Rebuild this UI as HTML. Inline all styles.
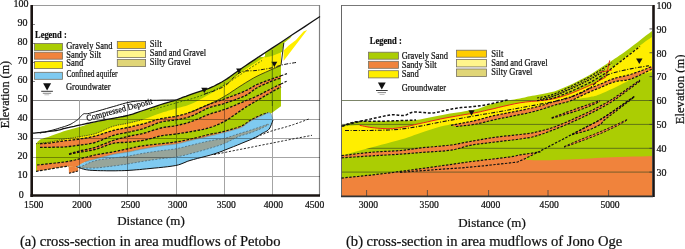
<!DOCTYPE html>
<html><head><meta charset="utf-8">
<style>
html,body{margin:0;padding:0;background:#fff;width:685px;height:249px;overflow:hidden}
svg{display:block;will-change:transform}
text{font-family:"Liberation Serif",serif;fill:#111;stroke:#111;stroke-width:0.22px}
</style></head><body>
<svg width="685" height="249" viewBox="0 0 685 249">
<defs>
<clipPath id="cl"><rect x="33" y="5" width="287" height="189"/></clipPath>
<clipPath id="cr"><rect x="341" y="5" width="311" height="191"/></clipPath>
</defs>

<!-- ================= LEFT CHART ================= -->
<g id="left">
<!-- frame -->
<line x1="33" y1="5.5" x2="320" y2="5.5" stroke="#9a9a9a" stroke-width="1"/>
<line x1="319.5" y1="5" x2="319.5" y2="195" stroke="#808080" stroke-width="1.2"/>
<g id="lgeo">
<polygon points="36.0,143.7 37.8,141.5 40.2,139.4 41.2,139.1 42.6,138.7 44.3,138.1 46.1,137.6 48.1,136.9 50.0,136.3 51.9,135.6 54.0,134.8 56.1,134.0 58.3,133.2 60.6,132.4 63.0,131.6 65.5,130.8 68.2,130.1 71.0,129.3 73.8,128.5 76.6,127.8 79.3,127.0 81.9,126.2 84.5,125.4 87.0,124.6 89.6,123.7 92.3,123.0 95.0,122.2 97.9,121.5 101.0,120.8 104.1,120.1 107.2,119.5 110.2,118.9 113.0,118.3 115.7,117.8 118.2,117.3 120.7,116.9 123.0,116.5 125.3,116.0 127.6,115.5 129.7,114.9 131.6,114.4 133.4,113.8 135.3,113.1 137.5,112.4 140.0,111.5 143.1,110.5 146.6,109.3 150.3,108.0 154.1,106.8 157.7,105.6 161.0,104.5 163.8,103.6 166.4,102.9 168.9,102.2 171.2,101.5 173.6,100.8 176.0,100.0 178.5,99.1 180.9,98.2 183.3,97.2 185.8,96.3 188.3,95.3 191.0,94.3 193.9,93.3 196.9,92.4 200.0,91.4 203.1,90.4 206.1,89.4 209.0,88.3 211.7,87.1 214.3,86.0 216.8,84.7 219.3,83.4 221.8,82.0 224.3,80.5 226.9,78.9 229.5,77.1 232.0,75.2 234.7,73.3 237.3,71.4 240.0,69.5 242.9,67.5 245.9,65.3 249.0,63.2 252.0,61.1 254.7,59.4 257.0,58.0 258.8,57.2 260.0,57.0 261.1,57.1 262.1,57.1 263.3,57.0 265.0,56.3 267.4,55.0 270.3,53.1 273.5,51.0 276.6,49.0 279.2,47.2 281.0,46.0 281.0,106.3 271.0,113.5 272.8,119.4 272.5,118.3 272.2,117.1 271.8,115.9 271.4,114.8 271.0,114.0 270.6,113.5 270.3,113.1 269.9,112.9 269.4,112.8 268.8,112.8 268.0,113.0 267.0,113.3 265.8,113.8 264.4,114.4 263.0,115.1 261.5,115.8 260.0,116.5 258.4,117.2 256.7,118.0 255.0,118.9 253.3,119.7 251.6,120.6 250.0,121.5 248.5,122.4 247.1,123.4 245.8,124.4 244.5,125.4 243.3,126.3 242.0,127.0 240.8,127.6 239.7,128.0 238.7,128.4 237.6,128.7 236.4,129.1 235.0,129.5 233.5,130.0 231.9,130.4 230.2,130.9 228.3,131.4 226.4,131.9 224.3,132.5 222.0,133.1 219.6,133.7 217.1,134.3 214.5,135.0 211.8,135.6 209.0,136.3 206.1,137.0 203.1,137.7 200.0,138.4 196.9,139.1 193.9,139.8 191.0,140.5 188.3,141.1 185.8,141.8 183.3,142.4 180.9,143.0 178.5,143.5 176.0,144.0 173.5,144.4 171.1,144.7 168.7,145.0 166.2,145.3 163.7,145.6 161.0,146.0 158.1,146.4 155.1,146.9 152.0,147.4 148.9,147.9 145.9,148.5 143.0,149.0 140.3,149.5 137.6,150.1 135.1,150.6 132.6,151.2 130.1,151.7 127.6,152.2 125.2,152.6 122.8,152.9 120.5,153.3 118.1,153.6 115.6,154.0 113.0,154.5 110.1,155.2 107.0,156.0 103.7,156.8 100.5,157.7 97.6,158.5 95.0,159.2 92.9,159.8 91.0,160.2 89.4,160.6 87.9,161.0 86.5,161.4 85.0,162.0 83.4,162.7 81.7,163.6 80.1,164.5 78.6,165.4 77.3,166.2 76.4,166.7 76.4,166.7 75.5,166.6 74.2,166.6 72.7,166.5 71.2,166.4 69.7,166.3 68.6,166.3 67.9,166.3 67.5,166.3 67.2,166.3 66.9,166.3 66.2,166.4 65.0,166.6 63.1,166.9 60.8,167.2 58.1,167.7 55.3,168.1 52.6,168.6 50.0,169.0 47.4,169.4 44.7,169.9 42.1,170.3 39.6,170.7 37.5,171.1 36.0,171.3 36.0,165.0" fill="#abcd03" />
<polygon points="36.0,143.7 37.5,143.5 39.7,143.3 42.2,143.0 44.9,142.7 47.6,142.4 50.0,142.0 52.2,141.6 54.3,141.2 56.4,140.8 58.5,140.3 60.7,139.8 63.0,139.4 65.5,139.0 68.2,138.5 71.0,138.1 73.8,137.6 76.6,137.2 79.3,136.7 81.9,136.3 84.5,135.9 87.0,135.5 89.6,135.0 92.3,134.5 95.0,133.7 97.9,132.7 101.0,131.4 104.1,130.0 107.2,128.6 110.2,127.3 113.0,126.3 115.6,125.6 118.1,125.0 120.5,124.6 122.8,124.2 125.2,123.8 127.6,123.3 130.1,122.7 132.6,122.2 135.1,121.6 137.6,121.0 140.3,120.3 143.0,119.5 145.9,118.5 148.9,117.5 152.0,116.3 155.1,115.1 158.1,114.0 161.0,113.0 163.7,112.1 166.2,111.4 168.7,110.6 171.1,109.9 173.5,109.2 176.0,108.5 178.5,107.8 180.9,107.2 183.3,106.6 185.8,105.9 188.3,105.0 191.0,104.0 193.9,102.7 196.9,101.2 200.0,99.5 203.1,97.8 206.1,96.1 209.0,94.5 211.7,93.0 214.3,91.5 216.8,90.0 219.3,88.5 221.8,86.9 224.3,85.2 226.9,83.3 229.5,81.3 232.0,79.2 234.7,77.1 237.3,75.0 240.0,73.0 242.9,71.0 245.9,68.9 249.0,66.9 252.0,65.0 254.7,63.2 257.0,61.7 258.8,60.5 260.0,59.7 261.1,59.1 262.1,58.4 263.3,57.6 265.0,56.5 267.4,54.9 270.3,53.0 273.5,50.9 276.6,48.9 279.2,47.2 281.0,46.0 281.0,65.5 278.3,66.7 274.5,68.3 270.1,70.2 265.4,72.3 260.9,74.3 257.0,76.2 253.7,77.9 250.8,79.6 248.0,81.3 245.3,82.9 242.7,84.6 240.0,86.3 237.3,88.0 234.7,89.8 232.0,91.5 229.5,93.3 226.9,94.9 224.3,96.5 221.8,97.9 219.3,99.3 216.8,100.6 214.3,101.8 211.7,103.0 209.0,104.3 206.1,105.6 203.1,107.0 200.0,108.4 196.9,109.7 193.9,110.9 191.0,112.0 188.3,112.9 185.8,113.8 183.3,114.5 180.9,115.1 178.5,115.7 176.0,116.3 173.5,116.8 171.1,117.1 168.7,117.4 166.2,117.8 163.7,118.2 161.0,118.7 158.1,119.4 155.1,120.3 152.0,121.2 148.9,122.2 145.9,123.1 143.0,123.9 140.3,124.6 137.6,125.2 135.1,125.8 132.6,126.4 130.1,127.0 127.6,127.5 125.2,128.0 122.8,128.4 120.5,128.9 118.1,129.3 115.6,129.9 113.0,130.5 110.2,131.3 107.2,132.3 104.1,133.3 101.0,134.3 97.9,135.3 95.0,136.1 92.3,136.8 89.6,137.3 87.0,137.8 84.5,138.3 81.9,138.7 79.3,139.1 76.6,139.5 73.8,139.8 71.0,140.1 68.2,140.4 65.5,140.7 63.0,141.0 60.6,141.3 58.3,141.7 56.1,142.1 54.0,142.4 52.0,142.7 50.0,143.0 48.0,143.2 46.1,143.4 44.2,143.5 42.5,143.6 41.1,143.7 40.0,143.8" fill="#ffee00" />
<polygon points="40.0,143.8 41.1,143.7 42.5,143.6 44.2,143.5 46.1,143.4 48.0,143.2 50.0,143.0 52.0,142.7 54.0,142.4 56.1,142.1 58.3,141.7 60.6,141.3 63.0,141.0 65.5,140.7 68.2,140.4 71.0,140.1 73.8,139.8 76.6,139.5 79.3,139.1 81.9,138.7 84.5,138.3 87.0,137.8 89.6,137.3 92.3,136.8 95.0,136.1 97.9,135.3 101.0,134.3 104.1,133.3 107.2,132.3 110.2,131.3 113.0,130.5 115.6,129.9 118.1,129.3 120.5,128.9 122.8,128.4 125.2,128.0 127.6,127.5 130.1,127.0 132.6,126.4 135.1,125.8 137.6,125.2 140.3,124.6 143.0,123.9 145.9,123.1 148.9,122.2 152.0,121.2 155.1,120.3 158.1,119.4 161.0,118.7 163.7,118.2 166.2,117.8 168.7,117.4 171.1,117.1 173.5,116.8 176.0,116.3 178.5,115.7 180.9,115.1 183.3,114.5 185.8,113.8 188.3,112.9 191.0,112.0 193.9,110.9 196.9,109.6 200.0,108.2 203.1,106.8 206.1,105.5 209.0,104.3 211.6,103.3 214.1,102.5 216.5,101.7 218.9,100.9 221.5,100.0 224.3,99.0 227.5,97.8 231.1,96.5 234.9,95.1 238.5,93.7 242.0,92.3 245.0,91.0 247.5,89.8 249.5,88.7 251.3,87.6 253.1,86.6 254.9,85.5 257.0,84.5 259.5,83.5 262.2,82.4 265.0,81.4 267.8,80.4 270.4,79.5 272.6,78.7 274.5,78.0 276.2,77.4 277.8,76.9 279.1,76.4 280.2,76.1 281.0,75.8 281.0,78.0 280.2,78.3 279.1,78.6 277.8,79.0 276.2,79.5 274.5,80.1 272.6,80.8 270.4,81.7 267.8,82.8 265.0,84.0 262.2,85.2 259.5,86.5 257.0,87.8 254.9,89.1 253.1,90.4 251.3,91.8 249.5,93.1 247.5,94.5 245.0,95.8 242.0,97.1 238.5,98.5 234.9,99.9 231.1,101.2 227.5,102.4 224.3,103.5 221.5,104.4 218.9,105.0 216.5,105.6 214.1,106.2 211.6,106.9 209.0,107.8 206.1,109.0 203.1,110.5 200.0,112.1 196.9,113.7 193.9,115.1 191.0,116.3 188.3,117.2 185.8,117.9 183.3,118.5 180.9,119.0 178.5,119.4 176.0,119.9 173.5,120.3 171.1,120.5 168.7,120.8 166.2,121.0 163.7,121.4 161.0,122.0 158.1,122.9 155.1,124.0 152.0,125.3 148.9,126.5 145.9,127.7 143.0,128.7 140.3,129.5 137.6,130.1 135.1,130.7 132.6,131.2 130.1,131.8 127.6,132.3 125.2,132.8 122.8,133.3 120.5,133.7 118.1,134.2 115.6,134.8 113.0,135.5 110.2,136.5 107.2,137.7 104.1,139.0 101.0,140.4 97.9,141.5 95.0,142.5 92.3,143.2 89.6,143.7 87.0,144.1 84.5,144.4 81.9,144.8 79.3,145.1 76.7,145.5 74.2,145.8 71.6,146.2 69.0,146.5 66.1,146.8 63.0,147.0 59.3,147.1 55.0,147.2 50.5,147.3 46.2,147.3 42.6,147.3 40.0,147.3" fill="#f0833c" />
<polygon points="69.0,154.0 70.1,153.7 71.5,153.2 73.2,152.7 75.1,152.2 77.2,151.6 79.3,151.0 81.6,150.5 84.0,150.0 86.7,149.4 89.4,148.9 92.2,148.2 95.0,147.4 97.9,146.4 101.0,145.2 104.1,144.0 107.2,142.7 110.2,141.5 113.0,140.5 115.6,139.7 118.1,138.9 120.5,138.3 122.8,137.7 125.2,137.1 127.6,136.5 130.1,136.0 132.6,135.5 135.1,135.1 137.6,134.6 140.3,134.1 143.0,133.5 145.9,132.7 148.9,131.7 152.0,130.7 155.1,129.7 158.1,128.8 161.0,128.0 163.7,127.4 166.2,127.0 168.7,126.7 171.1,126.4 173.5,126.1 176.0,125.6 178.5,125.1 180.9,124.5 183.3,124.0 185.8,123.3 188.3,122.6 191.0,121.7 193.9,120.6 196.9,119.4 200.0,118.1 203.1,116.7 206.1,115.4 209.0,114.3 211.6,113.4 214.1,112.6 216.5,112.0 218.9,111.3 221.5,110.5 224.3,109.5 227.5,108.3 231.1,106.8 234.9,105.3 238.5,103.7 242.0,102.3 245.0,101.0 247.5,100.0 249.5,99.2 251.3,98.5 253.1,97.8 254.9,97.0 257.0,96.0 259.5,94.8 262.2,93.4 265.0,91.9 267.8,90.5 270.4,89.1 272.6,88.0 274.5,87.1 276.2,86.2 277.8,85.5 279.1,84.9 280.2,84.4 281.0,84.0 281.0,86.8 280.2,87.3 279.1,87.9 277.8,88.6 276.2,89.4 274.5,90.4 272.6,91.5 270.4,92.8 267.8,94.2 265.0,95.8 262.2,97.5 259.5,99.1 257.0,100.5 254.8,101.8 252.7,103.0 250.7,104.2 248.7,105.4 246.8,106.5 245.0,107.7 243.2,108.9 241.5,110.0 239.9,111.1 238.3,112.2 236.7,113.4 235.0,114.5 233.3,115.7 231.7,116.8 230.0,118.0 228.2,119.2 226.4,120.4 224.3,121.5 222.0,122.6 219.6,123.8 217.1,124.9 214.5,126.0 211.8,127.0 209.0,127.9 206.1,128.7 203.1,129.4 200.0,130.0 196.9,130.6 193.9,131.1 191.0,131.6 188.3,132.1 185.8,132.5 183.3,132.9 180.9,133.3 178.5,133.6 176.0,134.0 173.5,134.3 171.1,134.6 168.7,134.8 166.2,135.1 163.7,135.4 161.0,135.9 158.1,136.5 155.1,137.3 152.0,138.2 148.9,139.0 145.9,139.8 143.0,140.4 140.3,140.9 137.6,141.2 135.1,141.5 132.6,141.7 130.1,142.0 127.6,142.2 125.2,142.4 122.8,142.5 120.5,142.5 118.1,142.7 115.6,142.9 113.0,143.4 110.2,144.2 107.2,145.2 104.1,146.4 101.0,147.5 97.9,148.6 95.0,149.5 92.2,150.2 89.4,150.7 86.7,151.1 84.0,151.5 81.6,151.8 79.3,152.2 77.2,152.6 75.1,153.0 73.2,153.4 71.5,153.8 70.1,154.1 69.0,154.3" fill="#f0833c" />
<polygon points="37.0,165.0 40.2,164.7 44.8,164.2 50.1,163.6 55.6,163.0 60.8,162.4 65.0,161.9 68.2,161.4 70.7,160.9 72.9,160.4 74.9,160.0 77.0,159.5 79.3,158.9 81.8,158.3 84.3,157.6 86.9,157.0 89.5,156.3 92.2,155.6 95.0,155.0 97.9,154.4 101.0,153.9 104.1,153.4 107.2,152.9 110.2,152.4 113.0,151.9 115.6,151.4 118.1,150.9 120.5,150.3 122.8,149.8 125.2,149.3 127.6,148.8 130.1,148.3 132.6,147.8 135.1,147.2 137.6,146.7 140.3,146.2 143.0,145.8 145.9,145.4 148.9,145.0 152.0,144.7 155.1,144.3 158.1,144.0 161.0,143.7 163.7,143.4 166.2,143.1 168.7,142.8 171.1,142.6 173.5,142.3 176.0,141.9 178.5,141.5 180.9,141.1 183.3,140.6 185.8,140.1 188.3,139.6 191.0,139.0 193.9,138.3 196.9,137.6 200.0,136.8 203.1,136.0 206.1,135.2 209.0,134.5 211.7,133.9 214.2,133.4 216.7,133.0 219.1,132.5 221.6,132.0 224.3,131.3 227.2,130.5 230.4,129.6 233.6,128.7 236.7,127.7 239.6,126.7 242.0,125.8 243.9,124.9 245.3,124.0 246.5,123.1 247.5,122.2 248.7,121.4 250.0,120.5 251.6,119.6 253.3,118.6 255.0,117.6 256.7,116.7 258.4,116.0 260.0,115.5 261.5,115.3 263.1,115.3 264.6,115.4 266.0,115.7 267.2,115.9 268.0,116.0 271.0,114.0 270.7,113.8 270.4,113.6 270.0,113.3 269.5,113.0 268.8,112.9 268.0,113.0 267.0,113.3 265.8,113.8 264.4,114.4 263.0,115.1 261.5,115.8 260.0,116.5 258.4,117.2 256.7,118.0 255.0,118.9 253.3,119.7 251.6,120.6 250.0,121.5 248.5,122.4 247.1,123.4 245.8,124.4 244.5,125.4 243.3,126.3 242.0,127.0 240.8,127.6 239.7,128.0 238.7,128.4 237.6,128.7 236.4,129.1 235.0,129.5 233.5,130.0 231.9,130.4 230.2,130.9 228.3,131.4 226.4,131.9 224.3,132.5 222.0,133.1 219.6,133.7 217.1,134.3 214.5,135.0 211.8,135.6 209.0,136.3 206.1,137.0 203.1,137.7 200.0,138.4 196.9,139.1 193.9,139.8 191.0,140.5 188.3,141.1 185.8,141.8 183.3,142.4 180.9,143.0 178.5,143.5 176.0,144.0 173.5,144.4 171.1,144.7 168.7,145.0 166.2,145.3 163.7,145.6 161.0,146.0 158.1,146.4 155.1,146.9 152.0,147.4 148.9,147.9 145.9,148.5 143.0,149.0 140.3,149.5 137.6,150.1 135.1,150.6 132.6,151.2 130.1,151.7 127.6,152.2 125.2,152.6 122.8,152.9 120.5,153.3 118.1,153.6 115.6,154.0 113.0,154.5 110.1,155.2 107.0,156.0 103.7,156.8 100.5,157.7 97.6,158.5 95.0,159.2 92.9,159.8 91.0,160.2 89.4,160.6 87.9,161.0 86.5,161.4 85.0,162.0 83.5,162.7 82.0,163.6 80.6,164.6 79.2,165.4 77.8,166.2 76.4,166.7 75.0,166.9 73.6,166.9 72.2,166.8 70.9,166.6 69.6,166.4 68.6,166.3 67.9,166.3 67.5,166.3 67.2,166.3 66.9,166.3 66.2,166.4 65.0,166.6 63.1,166.9 60.8,167.2 58.1,167.7 55.3,168.1 52.5,168.6 50.0,169.0 47.6,169.4 45.0,169.9 42.6,170.3 40.3,170.7 38.4,171.1 37.0,171.3" fill="#f0833c" />
<polygon points="68.6,166.3 69.0,173.3 78.3,170.9 78.0,167.5" fill="#f0833c" />
<polygon points="76.4,166.7 77.3,166.2 78.6,165.4 80.1,164.5 81.7,163.6 83.4,162.7 85.0,162.0 86.5,161.4 87.9,161.0 89.4,160.6 91.0,160.2 92.9,159.8 95.0,159.2 97.6,158.5 100.5,157.7 103.7,156.8 107.0,156.0 110.1,155.2 113.0,154.5 115.6,154.0 118.1,153.6 120.5,153.3 122.8,152.9 125.2,152.6 127.6,152.2 130.1,151.7 132.6,151.2 135.1,150.6 137.6,150.1 140.3,149.5 143.0,149.0 145.9,148.5 148.9,147.9 152.0,147.4 155.1,146.9 158.1,146.4 161.0,146.0 163.7,145.6 166.2,145.3 168.7,145.0 171.1,144.7 173.5,144.4 176.0,144.0 178.5,143.5 180.9,143.0 183.3,142.4 185.8,141.8 188.3,141.1 191.0,140.5 193.9,139.8 196.9,139.1 200.0,138.4 203.1,137.7 206.1,137.0 209.0,136.3 211.8,135.6 214.5,135.0 217.1,134.3 219.6,133.7 222.0,133.1 224.3,132.5 226.4,131.9 228.3,131.4 230.2,130.9 231.9,130.4 233.5,130.0 235.0,129.5 236.4,129.1 237.6,128.7 238.7,128.4 239.7,128.0 240.8,127.6 242.0,127.0 243.3,126.3 244.5,125.4 245.8,124.4 247.1,123.4 248.5,122.4 250.0,121.5 251.6,120.6 253.3,119.7 255.0,118.9 256.7,118.0 258.4,117.2 260.0,116.5 261.5,115.8 263.0,115.1 264.4,114.4 265.8,113.8 267.0,113.3 268.0,113.0 268.8,112.8 269.4,112.8 269.9,112.9 270.3,113.1 270.6,113.5 271.0,114.0 271.4,114.8 271.8,115.9 272.2,117.1 272.5,118.3 272.8,119.4 273.0,120.1 272.6,121.1 272.1,122.6 271.4,124.4 270.7,126.2 269.9,127.9 269.0,129.2 268.0,130.2 267.0,131.0 265.8,131.6 264.6,132.2 263.3,132.8 262.0,133.5 260.8,134.3 259.6,135.0 258.4,135.7 257.0,136.6 255.2,137.5 252.9,138.6 249.8,140.0 246.0,141.5 241.9,143.2 237.6,145.0 233.6,146.6 230.0,148.0 227.0,149.2 224.5,150.2 222.1,151.2 219.7,152.1 217.0,153.0 214.0,154.0 210.3,155.1 206.2,156.2 201.9,157.3 197.6,158.4 193.5,159.5 190.0,160.5 187.2,161.4 185.0,162.4 183.0,163.2 181.0,164.0 178.7,164.8 175.8,165.5 172.1,166.1 167.8,166.7 163.3,167.2 158.6,167.7 154.1,168.1 150.0,168.5 146.3,168.9 142.8,169.2 139.5,169.6 136.2,169.8 133.1,170.1 130.0,170.3 127.0,170.5 124.1,170.6 121.4,170.7 118.6,170.7 115.9,170.8 113.0,170.8 110.0,170.8 106.8,170.8 103.6,170.7 100.4,170.7 97.5,170.6 95.0,170.5 92.9,170.4 91.0,170.3 89.4,170.2 87.9,170.0 86.5,169.8 85.0,169.5 83.4,169.1 81.7,168.6 80.1,168.0 78.6,167.5 77.3,167.0 76.4,166.7" fill="#7fcaf0" />
<polygon points="79.0,167.6 80.7,166.8 83.1,165.7 85.9,164.4 88.9,163.0 92.0,161.8 95.0,160.8 97.9,160.1 101.0,159.5 104.1,159.1 107.2,158.7 110.2,158.4 113.0,158.0 115.6,157.7 118.1,157.4 120.5,157.1 122.8,156.8 125.2,156.6 127.6,156.2 130.1,155.8 132.6,155.3 135.1,154.8 137.7,154.3 140.3,153.8 143.0,153.3 145.8,152.9 148.6,152.4 151.5,152.0 154.3,151.6 157.2,151.2 160.0,150.8 162.7,150.5 165.5,150.1 168.2,149.9 170.9,149.5 173.5,149.2 176.0,148.8 178.4,148.3 180.6,147.8 182.8,147.3 185.0,146.7 187.4,146.1 190.0,145.5 192.9,144.8 196.1,144.0 199.4,143.2 202.8,142.4 206.0,141.7 209.0,141.0 211.8,140.5 214.4,140.0 217.0,139.6 219.5,139.3 221.9,138.8 224.3,138.3 226.7,137.7 229.0,137.0 231.4,136.2 233.6,135.4 235.8,134.7 238.0,134.0 240.1,133.3 242.2,132.7 244.2,132.1 246.2,131.5 248.1,130.9 250.0,130.3 251.8,129.7 253.5,129.2 255.2,128.6 256.8,128.1 258.4,127.5 260.0,127.0 261.7,126.4 263.4,125.8 265.1,125.1 266.7,124.6 268.0,124.1 269.0,123.7 269.0,124.5 268.0,125.0 266.7,125.7 265.1,126.5 263.4,127.4 261.7,128.2 260.0,129.0 258.4,129.7 256.8,130.4 255.2,131.0 253.5,131.7 251.8,132.4 250.0,133.0 248.1,133.6 246.2,134.2 244.2,134.7 242.2,135.3 240.1,136.0 238.0,136.8 235.8,137.8 233.6,138.9 231.4,140.1 229.0,141.3 226.7,142.4 224.3,143.5 221.9,144.4 219.5,145.3 217.0,146.1 214.4,146.9 211.8,147.7 209.0,148.5 206.0,149.4 202.8,150.3 199.4,151.3 196.1,152.2 192.9,153.0 190.0,153.8 187.4,154.5 185.0,155.1 182.8,155.6 180.6,156.1 178.4,156.6 176.0,157.0 173.5,157.4 170.9,157.7 168.2,157.9 165.5,158.2 162.7,158.5 160.0,158.8 157.2,159.2 154.3,159.6 151.5,160.0 148.6,160.4 145.8,160.9 143.0,161.3 140.3,161.7 137.7,162.2 135.1,162.7 132.6,163.1 130.1,163.6 127.6,164.0 125.2,164.4 122.8,164.7 120.5,165.0 118.1,165.4 115.6,165.7 113.0,166.0 110.2,166.4 107.2,166.7 104.1,167.1 101.0,167.5 97.9,167.8 95.0,168.0 92.0,168.1 88.9,168.1 85.9,168.1 83.1,168.0 80.7,167.9 79.0,167.9" fill="#97a59b" />
<polygon points="265.0,53.3 292.0,35.6 290.5,37.8 284.0,43.0 282.0,52.0 272.0,56.0 265.0,57.5" fill="#abcd03" />
<polygon points="283.6,61.0 290.0,52.5 307.2,30.0 303.5,31.5 296.0,40.0 288.7,45.5 283.6,50.5" fill="#ffee00" />
</g><!--/lgeo-->
<!-- gridlines -->
<g stroke="#a4a4a4" stroke-width="1" style="mix-blend-mode:multiply">
<line x1="33" y1="100.5" x2="320" y2="100.5" stroke="#808080"/>
<line x1="33" y1="119.5" x2="320" y2="119.5"/>
<line x1="33" y1="138.5" x2="320" y2="138.5"/>
<line x1="33" y1="157.5" x2="320" y2="157.5"/>
<line x1="33" y1="176.5" x2="320" y2="176.5"/>
<line x1="79.5" y1="100" x2="79.5" y2="195"/>
<line x1="127.5" y1="100" x2="127.5" y2="195"/>
<line x1="176.5" y1="100" x2="176.5" y2="195"/>
<line x1="224.5" y1="100" x2="224.5" y2="195"/>
<line x1="272.5" y1="100" x2="272.5" y2="195"/>
</g>
<g id="lgeo2">
<polyline points="33.0,133.2 34.3,133.1 36.1,132.9 38.2,132.7 40.5,132.5 42.8,132.2 45.0,132.0 47.2,131.7 49.5,131.4 51.8,131.1 54.1,130.8 56.2,130.5 58.0,130.2 59.4,129.9 60.5,129.6 61.4,129.3 62.3,129.0 63.5,128.7 65.0,128.3 66.9,127.9 69.2,127.4 71.6,126.8 74.2,126.3 76.8,125.7 79.3,125.2 81.8,124.7 84.3,124.1 86.9,123.5 89.5,123.0 92.2,122.4 95.0,121.8 97.9,121.2 101.0,120.6 104.1,120.0 107.2,119.4 110.2,118.8 113.0,118.3 115.7,117.8 118.2,117.4 120.7,116.9 123.0,116.5 125.3,116.0 127.6,115.5 129.7,114.9 131.6,114.4 133.4,113.8 135.3,113.1 137.5,112.4 140.0,111.5 143.1,110.5 146.6,109.3 150.3,108.0 154.1,106.8 157.7,105.6 161.0,104.5 163.8,103.6 166.4,102.9 168.9,102.2 171.2,101.5 173.6,100.8 176.0,100.0 178.5,99.1 180.9,98.2 183.3,97.2 185.8,96.3 188.3,95.3 191.0,94.3 193.9,93.3 196.9,92.4 200.0,91.4 203.1,90.4 206.1,89.4 209.0,88.3 211.7,87.1 214.3,86.0 216.8,84.7 219.3,83.4 221.8,82.0 224.3,80.5 226.9,78.9 229.5,77.1 232.0,75.2 234.7,73.3 237.3,71.4 240.0,69.5 242.9,67.5 245.9,65.5 249.0,63.4 252.0,61.4 254.7,59.6 257.0,58.0 258.3,57.1 258.6,57.0 258.6,57.0 259.2,56.6 261.1,55.4 265.0,52.8 272.1,48.1 281.9,41.7 293.0,34.3 304.0,27.1 313.5,20.8 320.0,16.5" fill="none" stroke="#111" stroke-width="1.3" stroke-linejoin="round" />
<polyline points="40.0,133.0 41.2,132.7 42.8,132.4 44.8,132.0 46.9,131.5 49.0,131.0 51.0,130.5 53.0,130.0 55.1,129.4 57.2,128.8 59.3,128.1 61.3,127.5 63.0,127.0 64.5,126.5 65.8,126.1 66.9,125.7 68.0,125.3 69.0,124.9 70.0,124.5 71.0,124.0 71.9,123.5 72.7,123.0 73.5,122.5 74.3,122.0 75.0,121.5 75.6,121.1 76.2,120.8 76.6,120.5 77.1,120.2 77.7,119.7 78.3,119.2 79.0,118.4 79.8,117.5 80.7,116.5 81.6,115.5 82.5,114.6 83.4,114.0 84.2,113.7 84.8,113.6 85.5,113.7 86.4,113.7 87.6,113.7 89.5,113.3 92.1,112.6 95.4,111.7 99.0,110.7 102.8,109.6 106.6,108.5 110.0,107.5 113.2,106.6 116.4,105.7 119.5,104.7 122.5,103.9 125.4,103.1 128.0,102.5 130.3,102.0 132.1,101.6 133.9,101.4 135.6,101.2 137.6,101.0 140.0,100.8 142.9,100.6 146.2,100.5 149.8,100.4 153.3,100.3 156.8,100.3 160.0,100.2 163.1,100.1 166.2,100.1 169.2,100.1 172.0,100.0 174.3,100.0 176.0,100.0" fill="none" stroke="#111" stroke-width="1.0" stroke-linejoin="round" />
<text transform="translate(87.3,121.2) rotate(-15)" font-size="8.8" textLength="68" lengthAdjust="spacingAndGlyphs">Compressed Deposit</text>
<polyline points="36.0,143.7 37.5,143.5 39.7,143.3 42.2,143.0 44.9,142.7 47.6,142.4 50.0,142.0 52.2,141.6 54.3,141.2 56.4,140.8 58.5,140.3 60.7,139.8 63.0,139.4 65.5,139.0 68.2,138.5 71.0,138.1 73.8,137.6 76.6,137.2 79.3,136.7 81.9,136.3 84.5,135.9 87.0,135.5 89.6,135.0 92.3,134.5 95.0,133.7 97.9,132.7 101.0,131.4 104.1,130.0 107.2,128.6 110.2,127.3 113.0,126.3 115.6,125.6 118.1,125.0 120.5,124.6 122.8,124.2 125.2,123.8 127.6,123.3 130.3,122.7 133.2,122.0 136.2,121.2 139.0,120.5 141.3,119.9 143.0,119.5" fill="none" stroke="#222" stroke-width="0.9" stroke-dasharray="0.9,0.9" stroke-linejoin="round" />
<polyline points="191.0,112.0 193.0,111.2 195.8,110.0 199.0,108.6 202.5,107.2 205.9,105.7 209.0,104.3 211.7,103.0 214.3,101.8 216.8,100.6 219.3,99.3 221.8,97.9 224.3,96.5 226.9,94.9 229.5,93.3 232.0,91.5 234.7,89.8 237.3,88.0 240.0,86.3 242.7,84.6 245.3,82.9 248.0,81.3 250.8,79.6 253.7,77.9 257.0,76.2 260.9,74.3 265.4,72.3 270.1,70.2 274.5,68.3 278.3,66.7 281.0,65.5" fill="none" stroke="#111" stroke-width="0.7" stroke-linejoin="round" />
<polyline points="40.0,143.8 41.1,143.7 42.5,143.6 44.2,143.5 46.1,143.4 48.0,143.2 50.0,143.0 52.0,142.7 54.0,142.4 56.1,142.1 58.3,141.7 60.6,141.3 63.0,141.0 65.5,140.7 68.2,140.4 71.0,140.1 73.8,139.8 76.6,139.5 79.3,139.1 81.9,138.7 84.5,138.3 87.0,137.8 89.6,137.3 92.3,136.8 95.0,136.1 97.9,135.3 101.0,134.3 104.1,133.3 107.2,132.3 110.2,131.3 113.0,130.5 115.6,129.9 118.1,129.3 120.5,128.9 122.8,128.4 125.2,128.0 127.6,127.5 130.1,127.0 132.6,126.4 135.1,125.8 137.6,125.2 140.3,124.6 143.0,123.9 145.9,123.1 148.9,122.2 152.0,121.2 155.1,120.3 158.1,119.4 161.0,118.7 163.7,118.2 166.2,117.8 168.7,117.4 171.1,117.1 173.5,116.8 176.0,116.3 178.5,115.7 180.9,115.1 183.3,114.5 185.8,113.8 188.3,112.9 191.0,112.0 193.9,110.9 196.9,109.6 200.0,108.2 203.1,106.8 206.1,105.5 209.0,104.3 211.6,103.3 214.1,102.5 216.5,101.7 218.9,100.9 221.5,100.0 224.3,99.0 227.5,97.8 231.1,96.5 234.9,95.1 238.5,93.7 242.0,92.3 245.0,91.0 247.5,89.8 249.5,88.7 251.3,87.6 253.1,86.6 254.9,85.5 257.0,84.5 259.5,83.5 262.2,82.4 265.0,81.4 267.8,80.4 270.4,79.5 272.6,78.7 274.5,78.0 276.2,77.4 277.8,76.9 279.1,76.4 280.2,76.1 281.0,75.8" fill="none" stroke="#111" stroke-width="1.3" stroke-dasharray="2.6,1.5" stroke-linejoin="round" />
<polyline points="40.0,147.3 42.6,147.3 46.2,147.3 50.5,147.3 55.0,147.2 59.3,147.1 63.0,147.0 66.1,146.8 69.0,146.5 71.6,146.2 74.2,145.8 76.7,145.5 79.3,145.1 81.9,144.8 84.5,144.4 87.0,144.1 89.6,143.7 92.3,143.2 95.0,142.5 97.9,141.5 101.0,140.4 104.1,139.0 107.2,137.7 110.2,136.5 113.0,135.5 115.6,134.8 118.1,134.2 120.5,133.7 122.8,133.3 125.2,132.8 127.6,132.3 130.1,131.8 132.6,131.2 135.1,130.7 137.6,130.1 140.3,129.5 143.0,128.7 145.9,127.7 148.9,126.5 152.0,125.3 155.1,124.0 158.1,122.9 161.0,122.0 163.7,121.4 166.2,121.0 168.7,120.8 171.1,120.5 173.5,120.3 176.0,119.9 178.5,119.4 180.9,119.0 183.3,118.5 185.8,117.9 188.3,117.2 191.0,116.3 193.9,115.1 196.9,113.7 200.0,112.1 203.1,110.5 206.1,109.0 209.0,107.8 211.6,106.9 214.1,106.2 216.5,105.6 218.9,105.0 221.5,104.4 224.3,103.5 227.5,102.4 231.1,101.2 234.9,99.9 238.5,98.5 242.0,97.1 245.0,95.8 247.5,94.5 249.5,93.1 251.3,91.8 253.1,90.4 254.9,89.1 257.0,87.8 259.5,86.5 262.2,85.2 265.0,84.0 267.8,82.8 270.4,81.7 272.6,80.8 274.5,80.1 276.2,79.5 277.8,79.0 279.1,78.6 280.2,78.3 281.0,78.0" fill="none" stroke="#111" stroke-width="1.3" stroke-dasharray="2.6,1.5" stroke-linejoin="round" />
<polyline points="69.0,154.0 70.1,153.7 71.5,153.2 73.2,152.7 75.1,152.2 77.2,151.6 79.3,151.0 81.6,150.5 84.0,150.0 86.7,149.4 89.4,148.9 92.2,148.2 95.0,147.4 97.9,146.4 101.0,145.2 104.1,144.0 107.2,142.7 110.2,141.5 113.0,140.5 115.6,139.7 118.1,138.9 120.5,138.3 122.8,137.7 125.2,137.1 127.6,136.5 130.1,136.0 132.6,135.5 135.1,135.1 137.6,134.6 140.3,134.1 143.0,133.5 145.9,132.7 148.9,131.7 152.0,130.7 155.1,129.7 158.1,128.8 161.0,128.0 163.7,127.4 166.2,127.0 168.7,126.7 171.1,126.4 173.5,126.1 176.0,125.6 178.5,125.1 180.9,124.5 183.3,124.0 185.8,123.3 188.3,122.6 191.0,121.7 193.9,120.6 196.9,119.4 200.0,118.1 203.1,116.7 206.1,115.4 209.0,114.3 211.6,113.4 214.1,112.6 216.5,112.0 218.9,111.3 221.5,110.5 224.3,109.5 227.5,108.3 231.1,106.8 234.9,105.3 238.5,103.7 242.0,102.3 245.0,101.0 247.5,100.0 249.5,99.2 251.3,98.5 253.1,97.8 254.9,97.0 257.0,96.0 259.5,94.8 262.2,93.4 265.0,91.9 267.8,90.5 270.4,89.1 272.6,88.0 274.5,87.1 276.2,86.2 277.8,85.5 279.1,84.9 280.2,84.4 281.0,84.0" fill="none" stroke="#111" stroke-width="1.3" stroke-dasharray="2.6,1.5" stroke-linejoin="round" />
<polyline points="69.0,154.3 70.1,154.1 71.5,153.8 73.2,153.4 75.1,153.0 77.2,152.6 79.3,152.2 81.6,151.8 84.0,151.5 86.7,151.1 89.4,150.7 92.2,150.2 95.0,149.5 97.9,148.6 101.0,147.5 104.1,146.4 107.2,145.2 110.2,144.2 113.0,143.4 115.6,142.9 118.1,142.7 120.5,142.5 122.8,142.5 125.2,142.4 127.6,142.2 130.1,142.0 132.6,141.7 135.1,141.5 137.6,141.2 140.3,140.9 143.0,140.4 145.9,139.8 148.9,139.0 152.0,138.2 155.1,137.3 158.1,136.5 161.0,135.9 163.7,135.4 166.2,135.1 168.7,134.8 171.1,134.6 173.5,134.3 176.0,134.0 178.5,133.6 180.9,133.3 183.3,132.9 185.8,132.5 188.3,132.1 191.0,131.6 193.9,131.1 196.9,130.6 200.0,130.0 203.1,129.4 206.1,128.7 209.0,127.9 211.8,127.0 214.5,126.0 217.1,124.9 219.6,123.8 222.0,122.6 224.3,121.5 226.4,120.4 228.2,119.2 230.0,118.0 231.7,116.8 233.3,115.7 235.0,114.5 236.7,113.4 238.3,112.2 239.9,111.1 241.5,110.0 243.2,108.9 245.0,107.7 246.8,106.5 248.7,105.4 250.7,104.2 252.7,103.0 254.8,101.8 257.0,100.5 259.5,99.1 262.2,97.5 265.0,95.8 267.8,94.2 270.4,92.8 272.6,91.5 274.5,90.4 276.2,89.4 277.8,88.6 279.1,87.9 280.2,87.3 281.0,86.8" fill="none" stroke="#111" stroke-width="1.3" stroke-dasharray="2.6,1.5" stroke-linejoin="round" />
<polyline points="37.0,165.0 40.2,164.7 44.8,164.2 50.1,163.6 55.6,163.0 60.8,162.4 65.0,161.9 68.2,161.4 70.7,160.9 72.9,160.4 74.9,160.0 77.0,159.5 79.3,158.9 81.8,158.3 84.3,157.6 86.9,157.0 89.5,156.3 92.2,155.6 95.0,155.0 97.9,154.4 101.0,153.9 104.1,153.4 107.2,152.9 110.2,152.4 113.0,151.9 115.6,151.4 118.1,150.9 120.5,150.3 122.8,149.8 125.2,149.3 127.6,148.8 130.1,148.3 132.6,147.8 135.1,147.2 137.6,146.7 140.3,146.2 143.0,145.8 145.9,145.4 148.9,145.0 152.0,144.7 155.1,144.3 158.1,144.0 161.0,143.7 163.7,143.4 166.2,143.1 168.7,142.8 171.1,142.6 173.5,142.3 176.0,141.9 178.5,141.5 180.9,141.1 183.3,140.6 185.8,140.1 188.3,139.6 191.0,139.0 193.9,138.3 196.9,137.6 200.0,136.8 203.1,136.0 206.1,135.2 209.0,134.5 211.7,133.9 214.2,133.4 216.7,133.0 219.1,132.5 221.6,132.0 224.3,131.3 227.2,130.5 230.4,129.6 233.6,128.7 236.7,127.7 239.6,126.7 242.0,125.8 243.9,124.9 245.3,124.0 246.5,123.1 247.5,122.2 248.7,121.4 250.0,120.5 251.6,119.6 253.3,118.7 255.0,117.9 256.7,117.0 258.4,116.2 260.0,115.5 261.5,114.8 263.1,114.2 264.6,113.7 266.0,113.2 267.2,112.8 268.0,112.5" fill="none" stroke="#111" stroke-width="1.2" stroke-dasharray="2.6,1.5" stroke-linejoin="round" />
<polyline points="36.0,171.3 37.5,171.1 39.6,170.7 42.1,170.3 44.7,169.9 47.4,169.4 50.0,169.0 52.6,168.6 55.3,168.1 58.1,167.7 60.8,167.2 63.1,166.9 65.0,166.6 66.3,166.4 67.2,166.3 67.7,166.3 68.1,166.3 68.3,166.3 68.6,166.3" fill="none" stroke="#111" stroke-width="1.2" stroke-dasharray="2.6,1.5" stroke-linejoin="round" />
<polyline points="69.0,173.3 78.3,170.9" fill="none" stroke="#111" stroke-width="1.1" stroke-dasharray="2.2,1.3" stroke-linejoin="round" />
<polyline points="79.0,167.6 80.7,166.8 83.1,165.7 85.9,164.4 88.9,163.0 92.0,161.8 95.0,160.8 97.9,160.1 101.0,159.5 104.1,159.1 107.2,158.7 110.2,158.4 113.0,158.0 115.6,157.7 118.1,157.4 120.5,157.1 122.8,156.8 125.2,156.6 127.6,156.2 130.1,155.8 132.6,155.3 135.1,154.8 137.7,154.3 140.3,153.8 143.0,153.3 145.8,152.9 148.6,152.4 151.5,152.0 154.3,151.6 157.2,151.2 160.0,150.8 162.7,150.5 165.5,150.1 168.2,149.9 170.9,149.5 173.5,149.2 176.0,148.8 178.4,148.3 180.6,147.8 182.8,147.3 185.0,146.7 187.4,146.1 190.0,145.5 192.9,144.8 196.1,144.0 199.4,143.2 202.8,142.4 206.0,141.7 209.0,141.0 211.8,140.5 214.4,140.0 217.0,139.6 219.5,139.3 221.9,138.8 224.3,138.3 226.7,137.7 229.0,137.0 231.4,136.2 233.6,135.4 235.8,134.7 238.0,134.0 240.1,133.3 242.2,132.7 244.2,132.1 246.2,131.5 248.1,130.9 250.0,130.3 251.8,129.7 253.5,129.2 255.2,128.6 256.8,128.1 258.4,127.5 260.0,127.0 261.7,126.4 263.4,125.8 265.1,125.1 266.7,124.6 268.0,124.1 269.0,123.7" fill="none" stroke="#4a6a7a" stroke-width="0.8" stroke-dasharray="2,1.5" stroke-linejoin="round" />
<polyline points="79.0,167.9 80.7,167.9 83.1,168.0 85.9,168.1 88.9,168.1 92.0,168.1 95.0,168.0 97.9,167.8 101.0,167.5 104.1,167.1 107.2,166.7 110.2,166.4 113.0,166.0 115.6,165.7 118.1,165.4 120.5,165.0 122.8,164.7 125.2,164.4 127.6,164.0 130.1,163.6 132.6,163.1 135.1,162.7 137.7,162.2 140.3,161.7 143.0,161.3 145.8,160.9 148.6,160.4 151.5,160.0 154.3,159.6 157.2,159.2 160.0,158.8 162.7,158.5 165.5,158.2 168.2,157.9 170.9,157.7 173.5,157.4 176.0,157.0 178.4,156.6 180.6,156.1 182.8,155.6 185.0,155.1 187.4,154.5 190.0,153.8 192.9,153.0 196.1,152.2 199.4,151.3 202.8,150.3 206.0,149.4 209.0,148.5 211.8,147.7 214.4,146.9 217.0,146.1 219.5,145.3 221.9,144.4 224.3,143.5 226.7,142.4 229.0,141.3 231.4,140.1 233.6,138.9 235.8,137.8 238.0,136.8 240.1,136.0 242.2,135.3 244.2,134.7 246.2,134.2 248.1,133.6 250.0,133.0 251.8,132.4 253.5,131.7 255.2,131.0 256.8,130.4 258.4,129.7 260.0,129.0 261.7,128.2 263.4,127.4 265.1,126.5 266.7,125.7 268.0,125.0 269.0,124.5" fill="none" stroke="#4a6a7a" stroke-width="0.8" stroke-dasharray="2,1.5" stroke-linejoin="round" />
<polyline points="85.0,162.0 86.0,161.7 87.3,161.3 88.9,160.9 90.7,160.4 92.8,159.8 95.0,159.2 97.6,158.5 100.5,157.7 103.7,156.8 107.0,156.0 110.1,155.2 113.0,154.5 115.6,154.0 118.1,153.6 120.5,153.3 122.8,152.9 125.2,152.6 127.6,152.2 130.1,151.7 132.6,151.2 135.1,150.6 137.6,150.1 140.3,149.5 143.0,149.0 145.9,148.5 148.9,147.9 152.0,147.4 155.1,146.9 158.1,146.4 161.0,146.0 163.7,145.6 166.2,145.3 168.7,145.0 171.1,144.7 173.5,144.4 176.0,144.0 178.5,143.5 180.9,143.0 183.3,142.4 185.8,141.8 188.3,141.1 191.0,140.5 193.9,139.8 196.9,139.1 200.0,138.4 203.1,137.7 206.1,137.0 209.0,136.3 211.8,135.6 214.5,135.0 217.1,134.3 219.6,133.7 222.0,133.1 224.3,132.5 226.4,131.9 228.3,131.4 230.2,130.9 231.9,130.4 233.5,130.0 235.0,129.5 236.4,129.1 237.6,128.7 238.7,128.4 239.7,128.0 240.8,127.6 242.0,127.0 243.3,126.3 244.5,125.4 245.8,124.4 247.1,123.4 248.5,122.4 250.0,121.5 251.6,120.6 253.3,119.7 255.0,118.9 256.7,118.0 258.4,117.2 260.0,116.5 261.5,115.8 263.0,115.1 264.4,114.4 265.8,113.8 267.0,113.3 268.0,113.0 268.8,112.8 269.4,112.8 269.9,112.9 270.3,113.1 270.6,113.5 271.0,114.0 271.4,114.8 271.8,115.9 272.2,117.1 272.5,118.3 272.8,119.4 273.0,120.1" fill="none" stroke="#6e8a96" stroke-width="0.6" stroke-linejoin="round" />
<polyline points="76.4,166.7 77.3,167.0 78.6,167.5 80.1,168.0 81.7,168.6 83.4,169.1 85.0,169.5 86.5,169.8 87.9,170.0 89.4,170.2 91.0,170.3 92.9,170.4 95.0,170.5 97.5,170.6 100.4,170.7 103.6,170.7 106.8,170.8 110.0,170.8 113.0,170.8 115.9,170.8 118.6,170.7 121.4,170.7 124.1,170.6 127.0,170.5 130.0,170.3 133.1,170.1 136.2,169.8 139.5,169.6 142.8,169.2 146.3,168.9 150.0,168.5 154.1,168.1 158.6,167.7 163.3,167.2 167.8,166.7 172.1,166.1 175.8,165.5 178.7,164.8 181.0,164.0 183.0,163.2 185.0,162.4 187.2,161.4 190.0,160.5 193.5,159.5 197.6,158.4 201.9,157.3 206.2,156.2 210.3,155.1 214.0,154.0 217.0,153.0 219.7,152.1 222.1,151.2 224.5,150.2 227.0,149.2 230.0,148.0 233.6,146.6 237.6,145.0 241.9,143.2 246.0,141.5 249.8,140.0 252.9,138.6 255.2,137.5 257.0,136.6 258.4,135.7 259.6,135.0 260.8,134.3 262.0,133.5 263.3,132.8 264.6,132.2 265.8,131.6 267.0,131.0 268.0,130.2 269.0,129.2 269.9,127.9 270.7,126.2 271.4,124.4 272.1,122.6 272.6,121.1 273.0,120.1" fill="none" stroke="#111" stroke-width="1.0" stroke-linejoin="round" />
<polyline points="150.0,110.5 152.9,109.7 156.8,108.5 161.5,107.2 166.5,105.7 171.5,104.3 176.0,103.0 180.1,101.9 184.1,100.8 188.1,99.7 192.1,98.6 196.0,97.4 200.0,96.0 204.1,94.4 208.2,92.7 212.4,90.9 216.5,89.0 220.5,87.0 224.3,85.0 228.0,82.9 231.6,80.6 235.1,78.2 238.5,75.9 241.8,73.6 245.0,71.5 248.2,69.4 251.6,67.2 254.8,65.2 257.7,63.3 260.2,61.7 262.0,60.5" fill="none" stroke="#2d5a0a" stroke-width="0.8" stroke-dasharray="2,1.5" stroke-linejoin="round" />
<polyline points="281.0,75.8 288.0,73.3" fill="none" stroke="#111" stroke-width="1.2" stroke-dasharray="2.4,1.5" stroke-linejoin="round" />
<polyline points="281.0,84.0 288.0,80.5" fill="none" stroke="#111" stroke-width="1.2" stroke-dasharray="2.4,1.5" stroke-linejoin="round" />
<polyline points="252.9,138.6 254.7,137.8 257.2,136.7 260.2,135.4 263.5,134.0 266.8,132.7 270.0,131.5 273.2,130.5 276.5,129.5 279.9,128.6 283.3,127.7 286.7,126.7 290.0,125.7 293.4,124.6 297.1,123.3 300.8,122.0 304.1,120.8 306.9,119.7 309.0,119.0" fill="none" stroke="#111" stroke-width="0.9" stroke-dasharray="2.2,1.6" stroke-linejoin="round" />
<polyline points="214.0,154.6 218.0,153.8 223.6,152.7 230.1,151.4 237.1,150.0 243.9,148.7 250.0,147.5 255.3,146.4 260.4,145.4 265.2,144.4 270.1,143.5 275.0,142.5 280.0,141.5 285.6,140.4 291.7,139.2 297.9,138.0 303.6,136.9 308.5,136.0 312.0,135.3" fill="none" stroke="#111" stroke-width="0.9" stroke-dasharray="2.2,1.6" stroke-linejoin="round" />
<polyline points="204.0,94.3 206.2,93.5 209.3,92.5 213.0,91.3 216.9,89.8 220.7,88.2 224.0,86.5 226.9,84.4 229.6,81.8 232.2,79.1 234.8,76.5 237.4,74.2 240.0,72.5 242.7,71.5 245.4,71.0 248.1,70.8 250.7,70.8 253.4,70.7 256.0,70.5 258.6,70.1 261.1,69.7 263.7,69.3 266.2,68.9 268.6,68.5 271.0,68.0 273.3,67.5 275.5,66.9 277.7,66.2 279.8,65.6 281.9,65.0 284.0,64.5 286.2,64.1 288.5,63.6 290.8,63.3 292.9,63.0 294.7,62.7 296.0,62.5" fill="none" stroke="#111" stroke-width="1.0" stroke-dasharray="4,1.5,1,1.5" stroke-linejoin="round" />
<polygon points="201.2,87.8 207.4,87.8 204.3,93.0" fill="#111"/>
<polygon points="236.1,68.6 241.7,68.6 238.9,73.6" fill="#111"/>
<polygon points="271.3,61.8 277.3,61.8 274.3,67.0" fill="#111"/>
<polyline points="283.8,43.0 281.0,65.2" fill="none" stroke="#111" stroke-width="0.9" stroke-linejoin="round" />
<polyline points="272.3,50.0 272.3,106.0" fill="none" stroke="#2d4a10" stroke-width="0.7" stroke-linejoin="round" />
<polyline points="176.0,100.0 176.0,124.0" fill="none" stroke="#2d4a10" stroke-width="0.6" stroke-linejoin="round" />
<polyline points="224.3,82.0 224.3,100.0" fill="none" stroke="#2d4a10" stroke-width="0.6" stroke-linejoin="round" />
</g><!--/lgeo2-->
<!-- left legend -->
<g id="llegend">
<text x="35" y="38.2" font-size="10.5" font-weight="bold" textLength="31.7" lengthAdjust="spacingAndGlyphs">Legend :</text>
<g stroke="#777060" stroke-width="0.8">
<rect x="34.5" y="43.5" width="28" height="7" fill="#abcd03"/>
<rect x="34.5" y="52.2" width="28" height="7" fill="#f0833c"/>
<rect x="34.5" y="61.6" width="28" height="7" fill="#ffee00"/>
<rect x="34.5" y="72.3" width="28" height="7" fill="#7fcaf0"/>
<rect x="117.3" y="41.5" width="28.3" height="7" fill="#ffcd00"/>
<rect x="117.3" y="50.5" width="28.3" height="7" fill="#fff58c"/>
<rect x="117.3" y="59.5" width="28.3" height="7" fill="#e0d577"/>
</g>
<g font-size="9.6">
<text x="66.2" y="49.2" textLength="46.3" lengthAdjust="spacingAndGlyphs">Gravely Sand</text>
<text x="66.2" y="57.8" textLength="35" lengthAdjust="spacingAndGlyphs">Sandy Silt</text>
<text x="66.2" y="66.3" textLength="17" lengthAdjust="spacingAndGlyphs">Sand</text>
<text x="66.6" y="77" textLength="51" lengthAdjust="spacingAndGlyphs">Confined aquifer</text>
<text x="66" y="90.3" textLength="44.6" lengthAdjust="spacingAndGlyphs">Groundwater</text>
<text x="149.8" y="47.2" textLength="12" lengthAdjust="spacingAndGlyphs">Silt</text>
<text x="149.8" y="55.9" textLength="56.3" lengthAdjust="spacingAndGlyphs">Sand and Gravel</text>
<text x="149.8" y="64.6" textLength="41" lengthAdjust="spacingAndGlyphs">Silty Gravel</text>
</g>
<path d="M43.1,83.2 L51.1,83.2 L47.1,90.6 Z" fill="#111" stroke="none"/>
<line x1="41.2" y1="91.3" x2="52.9" y2="91.3" stroke="#222" stroke-width="0.9"/>
<line x1="42.8" y1="93.3" x2="51.2" y2="93.3" stroke="#555" stroke-width="0.7"/>
<line x1="44.4" y1="94.8" x2="49.2" y2="94.8" stroke="#999" stroke-width="0.6"/>
</g>

<!-- axes -->
<line x1="31.7" y1="5" x2="31.7" y2="197" stroke="#1a1412" stroke-width="2.6"/>
<line x1="30.5" y1="195.5" x2="320" y2="195.5" stroke="#1a1412" stroke-width="2.6"/>
<g stroke="#555" stroke-width="0.7"><line x1="33" y1="24.5" x2="35" y2="24.5"/><line x1="33" y1="43.5" x2="35" y2="43.5"/><line x1="33" y1="62.5" x2="35" y2="62.5"/><line x1="33" y1="81.5" x2="35" y2="81.5"/></g>
<!-- y tick labels -->
<g font-size="10" text-anchor="end">
<text x="28.6" y="6.6">100</text>
<text x="27.6" y="26">90</text>
<text x="27.6" y="45">80</text>
<text x="27.6" y="64">70</text>
<text x="27.6" y="83">60</text>
<text x="27.6" y="102">50</text>
<text x="27.6" y="121">40</text>
<text x="27.6" y="140">30</text>
<text x="27.6" y="159">20</text>
<text x="27.6" y="178">10</text>
<text x="23.8" y="197.6">0</text>
</g>
<g font-size="9.6" text-anchor="middle">
<text x="33.7" y="208">1500</text>
<text x="81.9" y="208">2000</text>
<text x="130.5" y="208">2500</text>
<text x="177.7" y="208">3000</text>
<text x="226.3" y="208">3500</text>
<text x="273.4" y="208">4000</text>
<text x="314.6" y="208">4500</text>
</g>
<text x="151" y="225.2" font-size="13" text-anchor="middle">Distance (m)</text>
<text transform="translate(9,94.5) rotate(-90)" font-size="12.2" text-anchor="middle">Elevation (m)</text>
<text x="20" y="246" font-size="14.57">(a) cross-section in area mudflows of Petobo</text>
</g>

<!-- ================= RIGHT CHART ================= -->
<g id="right">
<g id="rgeo">
<polygon points="341.5,126.3 343.0,125.8 344.9,125.0 347.2,124.1 349.9,123.2 352.9,122.4 356.0,121.8 359.5,121.5 363.4,121.3 367.6,121.3 371.9,121.3 376.1,121.3 380.0,121.3 383.7,121.2 387.4,121.1 391.1,121.0 394.6,120.8 397.9,120.7 401.0,120.6 403.7,120.6 405.9,120.6 408.0,120.6 410.2,120.6 412.8,120.4 416.0,120.0 420.0,119.4 424.6,118.5 429.6,117.5 434.7,116.5 439.9,115.4 445.0,114.5 450.1,113.6 455.5,112.8 460.9,112.0 466.1,111.1 470.9,110.3 475.0,109.5 478.3,108.7 481.0,107.8 483.2,106.9 485.3,106.1 487.5,105.3 490.0,104.5 492.9,103.8 496.0,103.0 499.2,102.3 502.3,101.6 505.3,101.0 508.0,100.5 510.4,100.1 512.5,99.7 514.5,99.4 516.4,99.1 518.2,98.8 520.0,98.5 521.7,98.1 523.3,97.8 524.8,97.4 526.4,97.0 528.1,96.6 530.0,96.2 532.2,95.8 534.6,95.4 537.2,95.0 539.8,94.6 542.4,94.1 545.0,93.6 547.4,93.1 549.6,92.6 551.9,92.0 554.3,91.4 556.9,90.5 560.0,89.3 563.6,87.8 567.8,85.9 572.2,83.9 576.7,81.8 581.0,79.6 585.0,77.5 588.7,75.4 592.4,73.2 595.9,70.9 599.3,68.7 602.3,66.7 605.0,65.0 607.2,63.6 608.9,62.6 610.3,61.7 611.7,60.8 613.2,59.8 615.0,58.6 617.1,57.2 619.4,55.6 621.8,54.0 624.3,52.2 627.0,50.2 630.0,48.0 633.5,45.3 637.6,42.2 641.9,38.8 646.0,35.6 649.5,32.9 652.0,31.0 652.0,197.0 341.5,197.0" fill="#abcd03" />
<polygon points="341.5,178.1 345.6,177.7 351.0,177.1 357.6,176.5 364.9,175.7 372.8,174.9 381.0,173.9 390.0,172.8 400.3,171.4 411.1,170.0 421.8,168.5 431.6,167.2 440.0,166.0 446.6,165.1 451.8,164.3 456.2,163.7 460.3,163.0 464.8,162.4 470.0,161.7 476.4,160.9 483.7,160.0 491.2,159.1 498.5,158.3 505.0,157.5 510.0,156.9 513.4,156.4 515.7,155.9 517.1,155.5 518.1,155.2 518.9,155.1 520.0,155.2 521.1,155.6 521.8,156.3 522.4,157.2 523.2,158.1 524.3,158.9 526.0,159.5 528.2,159.9 530.8,160.1 533.7,160.3 537.0,160.3 540.8,160.3 545.0,160.3 549.9,160.2 555.6,160.0 561.7,159.8 568.0,159.5 574.2,159.3 580.0,159.0 585.4,158.7 590.6,158.4 595.7,158.1 600.9,157.8 606.2,157.6 612.0,157.3 618.7,157.1 626.2,156.8 634.0,156.6 641.3,156.4 647.6,156.2 652.0,156.1 652.0,197.0 341.5,197.0" fill="#f0833c" />
<g stroke="#3c4a1e" stroke-width="0.9" opacity="0.75"><line x1="341" y1="100.5" x2="652" y2="100.5"/><line x1="341" y1="124.4" x2="652" y2="124.4"/><line x1="341" y1="148.3" x2="652" y2="148.3"/><line x1="341" y1="172.1" x2="652" y2="172.1"/></g>
<polygon points="341.5,126.3 343.5,126.2 346.4,125.9 349.8,125.7 353.4,125.4 356.8,125.3 359.7,125.3 362.0,125.5 364.0,125.9 365.9,126.3 367.7,126.8 369.7,127.2 372.0,127.6 374.7,127.9 377.7,128.2 380.8,128.4 384.0,128.6 387.1,128.7 390.0,128.7 392.7,128.6 395.2,128.3 397.7,128.0 400.1,127.6 402.5,127.2 405.0,126.8 407.4,126.4 409.6,125.9 411.9,125.4 414.3,124.8 416.9,124.2 420.0,123.5 423.5,122.7 427.4,121.9 431.6,120.9 435.9,120.0 440.4,119.0 445.0,118.1 449.9,117.2 455.2,116.3 460.6,115.3 465.9,114.4 470.8,113.6 475.0,112.8 478.2,112.2 480.6,111.7 482.5,111.2 484.4,110.8 486.8,110.2 490.0,109.5 494.1,108.6 498.7,107.4 503.8,106.2 509.1,105.0 514.5,103.8 520.0,102.8 525.6,102.0 531.5,101.4 537.5,100.9 543.5,100.3 549.4,99.6 555.0,98.5 560.4,97.0 565.7,95.3 570.9,93.4 575.9,91.4 580.6,89.4 585.0,87.5 589.1,85.7 593.1,84.0 596.7,82.3 600.1,80.6 603.0,78.9 605.5,77.3 607.1,75.9 607.9,74.7 608.3,73.5 608.8,72.1 609.8,70.4 612.0,68.1 615.6,64.9 620.3,61.0 625.7,56.8 631.1,52.5 636.0,48.6 640.0,45.5 643.1,43.2 645.6,41.3 647.8,39.8 649.5,38.7 650.9,37.8 652.0,37.0 652.0,72.0 650.8,72.2 649.2,72.5 647.2,72.9 645.0,73.4 642.6,74.1 640.0,75.0 637.1,76.3 633.9,77.8 630.5,79.6 627.0,81.5 623.4,83.3 620.0,85.0 616.6,86.7 613.0,88.4 609.4,90.1 605.9,91.7 602.8,93.1 600.0,94.3 597.8,95.1 596.1,95.7 594.7,96.1 593.3,96.4 591.8,96.6 590.0,97.0 587.8,97.4 585.6,97.7 583.1,98.1 580.6,98.4 577.8,98.8 575.0,99.3 572.0,99.8 568.8,100.4 565.5,101.0 562.1,101.7 558.6,102.4 555.0,103.2 551.5,104.1 548.1,105.0 544.6,106.0 540.8,107.0 536.7,108.1 532.0,109.2 526.4,110.3 520.1,111.5 513.3,112.7 506.6,114.0 500.3,115.1 495.0,116.2 490.8,117.2 487.4,118.1 484.6,119.0 481.8,119.9 478.7,120.7 475.0,121.5 470.5,122.2 465.5,122.8 460.2,123.4 454.9,124.0 449.8,124.8 445.0,125.6 440.6,126.6 436.4,127.8 432.4,129.0 428.5,130.3 424.7,131.6 421.0,132.8 417.6,133.9 414.4,135.1 411.4,136.2 408.3,137.3 404.9,138.4 401.0,139.6 396.6,140.8 391.7,142.1 386.6,143.5 381.3,144.8 376.1,146.2 371.0,147.5 365.7,148.9 360.0,150.5 354.4,152.1 349.1,153.6 344.7,154.8 341.5,155.7" fill="#ffee00" />
<polygon points="537.0,98.0 538.8,97.7 541.2,97.3 544.1,96.8 547.4,96.0 551.1,95.1 555.0,93.7 559.4,91.8 564.5,89.5 569.9,86.9 575.3,84.2 580.4,81.6 585.0,79.2 589.1,77.0 592.9,74.8 596.4,72.6 599.7,70.6 602.5,68.8 605.0,67.3 607.0,66.1 608.6,65.1 609.8,64.4 610.7,63.8 611.4,63.4 612.0,63.0 612.0,68.1 611.4,68.6 610.7,69.3 609.8,70.1 608.6,71.0 607.0,72.2 605.0,73.5 602.5,75.1 599.7,76.8 596.4,78.8 592.9,80.9 589.1,82.9 585.0,85.0 580.4,87.1 575.3,89.5 569.9,91.8 564.5,94.1 559.4,96.0 555.0,97.6 551.1,98.7 547.4,99.4 544.1,99.9 541.2,100.2 538.8,100.4 537.0,100.6" fill="#c9d60e" />
<polygon points="520.0,154.9 540.5,151.9 540.0,151.0 520.0,160.9" fill="#f0833c" />
<polygon points="451.0,125.3 453.7,124.8 457.4,124.1 461.8,123.3 466.4,122.4 471.0,121.5 475.0,120.6 478.4,119.8 481.3,119.0 484.2,118.2 487.2,117.3 490.7,116.4 495.0,115.4 500.3,114.3 506.6,113.1 513.3,111.8 520.1,110.5 526.4,109.2 532.0,108.0 536.7,106.8 541.0,105.7 544.9,104.5 548.4,103.4 551.8,102.4 555.0,101.5 558.0,100.7 560.6,100.1 563.0,99.5 565.3,99.0 567.6,98.3 570.0,97.5 572.5,96.5 575.0,95.4 577.5,94.1 580.0,92.9 582.5,91.7 585.0,90.5 587.5,89.4 590.0,88.3 592.5,87.3 595.0,86.3 597.5,85.2 600.0,84.2 602.5,83.2 605.0,82.1 607.4,81.0 609.9,80.0 612.4,79.1 615.0,78.2 617.6,77.5 620.1,76.9 622.6,76.4 625.3,75.8 628.0,75.2 631.0,74.3 634.5,73.1 638.4,71.7 642.5,70.2 646.4,68.7 649.7,67.4 652.0,66.5 652.0,69.0 649.7,70.2 646.4,71.9 642.5,73.8 638.4,75.8 634.5,77.6 631.0,79.0 628.0,79.8 625.3,80.3 622.6,80.6 620.1,80.8 617.6,81.1 615.0,81.7 612.4,82.5 609.9,83.4 607.4,84.5 605.0,85.6 602.5,86.6 600.0,87.7 597.5,88.7 595.0,89.8 592.5,90.8 590.0,91.8 587.5,92.9 585.0,94.0 582.5,95.2 580.0,96.4 577.5,97.6 575.0,98.9 572.5,100.0 570.0,101.0 567.6,101.8 565.3,102.4 563.0,103.0 560.6,103.6 558.0,104.2 555.0,105.0 551.8,106.0 548.4,107.1 544.9,108.3 541.0,109.5 536.7,110.8 532.0,112.0 526.4,113.3 520.1,114.6 513.3,115.9 506.6,117.3 500.3,118.5 495.0,119.6 490.7,120.6 487.0,121.5 483.9,122.3 481.0,123.0 478.1,123.7 475.0,124.3 471.6,124.8 467.9,125.3 464.2,125.7 460.9,126.0 458.1,126.3 456.0,126.5" fill="#f0833c" />
<polygon points="551.7,117.9 553.7,117.1 556.5,116.1 559.9,114.8 563.4,113.5 566.9,112.1 570.0,111.0 572.8,110.0 575.4,109.0 578.0,108.1 580.5,107.2 583.0,106.4 585.5,105.5 588.1,104.6 590.9,103.6 593.7,102.7 596.3,101.8 598.4,101.0 600.0,100.5 600.0,101.5 598.4,102.2 596.3,103.2 593.7,104.3 590.9,105.5 588.1,106.7 585.5,107.8 583.0,108.7 580.5,109.6 578.0,110.5 575.4,111.3 572.8,112.1 570.0,113.0 566.9,113.9 563.4,115.0 559.9,116.0 556.5,116.9 553.7,117.7 551.7,118.3" fill="#f0833c" />
<polygon points="341.5,155.7 344.7,155.3 349.1,154.8 354.4,154.1 360.0,153.4 365.7,152.8 371.0,152.3 376.1,151.9 381.3,151.6 386.6,151.3 391.7,151.1 396.6,150.8 401.0,150.5 404.8,150.1 408.0,149.7 411.0,149.3 414.0,148.8 417.2,148.4 421.0,147.9 425.5,147.4 430.7,147.0 436.1,146.5 441.4,146.0 446.5,145.5 451.0,145.0 454.7,144.5 457.9,143.9 460.8,143.3 463.6,142.7 466.6,142.1 470.0,141.5 473.8,140.8 477.9,140.1 482.1,139.4 486.4,138.6 490.8,137.9 495.0,137.3 499.3,136.7 503.7,136.2 508.1,135.8 512.4,135.3 516.4,134.9 520.0,134.5 523.0,134.1 525.6,133.8 527.8,133.6 530.0,133.3 532.3,132.9 535.0,132.3 538.0,131.6 541.1,130.9 544.4,130.0 547.8,129.1 551.3,128.0 555.0,126.7 558.9,125.2 563.0,123.6 567.2,121.8 571.5,119.9 575.8,117.9 580.0,116.0 584.3,114.0 588.7,111.9 593.1,109.7 597.4,107.5 601.4,105.4 605.0,103.5 608.0,101.8 610.6,100.3 612.8,98.8 615.0,97.4 617.3,95.8 620.0,94.0 623.3,91.8 627.0,89.1 630.9,86.4 634.6,83.8 637.8,81.6 640.0,80.0 640.0,81.0 637.8,82.7 634.6,85.1 630.9,87.9 627.0,90.8 623.3,93.6 620.0,96.0 617.3,97.9 615.0,99.5 612.8,101.0 610.6,102.5 608.0,104.1 605.0,105.8 601.4,107.8 597.4,109.9 593.1,112.1 588.7,114.3 584.3,116.5 580.0,118.5 575.8,120.4 571.5,122.3 567.2,124.2 563.0,126.0 558.9,127.6 555.0,129.2 551.3,130.6 547.8,132.0 544.4,133.3 541.1,134.4 538.0,135.4 535.0,136.3 532.3,137.0 530.0,137.5 527.8,137.9 525.6,138.2 523.0,138.6 520.0,139.0 516.4,139.5 512.4,140.0 508.1,140.5 503.7,141.0 499.3,141.5 495.0,142.0 490.8,142.5 486.4,143.1 482.1,143.6 477.9,144.1 473.8,144.7 470.0,145.4 466.6,146.1 463.6,147.0 460.8,147.9 457.9,148.7 454.7,149.5 451.0,150.2 446.5,150.7 441.4,151.2 436.1,151.5 430.7,151.9 425.5,152.2 421.0,152.5 417.2,152.8 414.0,153.1 411.0,153.3 408.0,153.6 404.8,153.8 401.0,154.1 396.6,154.4 391.7,154.7 386.6,155.0 381.3,155.3 376.1,155.6 371.0,155.9 365.7,156.2 360.0,156.6 354.4,157.0 349.1,157.3 344.7,157.6 341.5,157.8" fill="#f0833c" />
<polygon points="572.0,134.4 572.8,134.0 574.0,133.3 575.4,132.6 576.9,131.8 578.5,131.0 580.0,130.2 581.6,129.4 583.2,128.5 584.9,127.7 586.6,126.8 588.3,125.9 590.0,125.0 591.6,124.2 593.1,123.5 594.6,122.8 596.1,122.0 597.9,121.0 600.0,119.8 602.4,118.3 605.1,116.5 608.0,114.6 611.0,112.6 614.1,110.5 617.0,108.5 620.1,106.4 623.4,104.1 626.8,101.7 629.9,99.6 632.6,97.7 634.5,96.4 634.5,96.8 632.9,98.0 630.8,99.7 628.2,101.7 625.4,103.8 622.6,106.0 620.0,108.0 617.4,110.0 614.7,112.1 611.9,114.1 609.3,116.1 606.9,118.0 605.0,119.5 603.6,120.7 602.8,121.6 602.2,122.4 601.7,123.1 601.0,123.7 600.0,124.5 598.6,125.4 597.0,126.2 595.3,127.1 593.5,128.0 591.7,128.8 590.0,129.5 588.3,130.1 586.6,130.7 584.9,131.2 583.2,131.6 581.6,132.1 580.0,132.5 578.5,132.9 576.9,133.3 575.4,133.7 574.0,134.1 572.8,134.4 572.0,134.6" fill="#f0833c" />
<polygon points="564.0,146.6 565.7,145.9 568.0,144.9 570.8,143.7 573.8,142.4 576.9,141.1 580.0,139.8 583.1,138.5 586.5,137.2 589.9,135.8 593.4,134.5 596.8,133.1 600.0,131.8 603.1,130.5 606.1,129.2 609.1,127.9 611.9,126.6 614.6,125.4 617.0,124.3 619.2,123.3 621.3,122.3 623.2,121.4 624.9,120.6 626.3,119.9 627.3,119.4 627.3,119.9 626.3,120.5 624.9,121.4 623.2,122.4 621.3,123.5 619.2,124.7 617.0,125.9 614.6,127.1 611.9,128.4 609.1,129.7 606.1,131.1 603.1,132.5 600.0,133.8 596.8,135.1 593.4,136.5 589.9,137.8 586.5,139.2 583.1,140.4 580.0,141.6 576.9,142.7 573.8,143.8 570.8,144.9 568.0,145.8 565.7,146.6 564.0,147.2" fill="#f0833c" />
</g><!--/rgeo-->
<line x1="341" y1="5.5" x2="652" y2="5.5" stroke="#777" stroke-width="1"/>
<line x1="341.5" y1="5" x2="341.5" y2="196" stroke="#666" stroke-width="1"/>
<g id="rgeo2">
<polyline points="342.6,126.0 343.6,125.7 344.9,125.3 346.4,124.9 348.2,124.3 350.1,123.8 352.0,123.3 354.1,122.8 356.3,122.2 358.7,121.7 361.2,121.1 363.6,120.5 366.0,120.0 368.3,119.5 370.7,119.0 373.1,118.4 375.4,117.9 377.7,117.5 380.0,117.0 382.2,116.5 384.3,116.1 386.5,115.6 388.5,115.2 390.6,114.9 392.6,114.7 394.6,114.7 396.7,114.9 398.7,115.2 400.6,115.4 402.4,115.6 404.0,115.6 405.3,115.4 406.4,114.9 407.3,114.4 408.2,113.9 409.1,113.4 410.0,113.0 410.9,112.7 411.6,112.5 412.4,112.3 413.3,112.1 414.4,112.0 416.0,112.0 418.1,112.1 420.7,112.3 423.6,112.6 426.5,112.9 429.4,113.0 432.0,113.0 434.3,112.8 436.6,112.4 438.7,112.0 440.8,111.5 442.9,111.0 445.0,110.5 447.0,110.1 448.9,109.7 450.8,109.2 452.9,108.8 455.2,108.4 458.0,108.0 461.3,107.6 465.1,107.3 469.2,106.9 473.4,106.6 477.8,106.1 482.0,105.5 486.5,104.7 491.5,103.7 496.5,102.5 501.2,101.5 505.1,100.5 508.0,99.9" fill="none" stroke="#111" stroke-width="1.5" stroke-dasharray="2.8,1.8" stroke-linejoin="round" />
<polyline points="341.5,126.3 343.0,125.8 344.9,125.0 347.2,124.1 349.9,123.2 352.9,122.4 356.0,121.8 359.5,121.5 363.4,121.3 367.6,121.3 371.9,121.3 376.1,121.3 380.0,121.3 383.7,121.2 387.4,121.1 391.1,121.0 394.6,120.8 397.9,120.7 401.0,120.6 404.0,120.5 407.0,120.4 409.8,120.3 412.3,120.2 414.4,120.1 416.0,120.0" fill="none" stroke="#111" stroke-width="1.5" stroke-dasharray="2.8,1.8" stroke-linejoin="round" />
<polyline points="359.7,125.3 361.0,125.6 362.7,125.9 364.7,126.4 367.0,126.8 369.5,127.3 372.0,127.6 374.7,127.9 377.7,128.2 380.8,128.4 384.0,128.6 387.1,128.7 390.0,128.7 392.7,128.6 395.2,128.3 397.7,128.0 400.1,127.6 402.5,127.2 405.0,126.8 407.4,126.4 409.6,125.9 411.9,125.4 414.3,124.8 416.9,124.2 420.0,123.5 423.5,122.7 427.4,121.9 431.6,120.9 435.9,120.0 440.4,119.0 445.0,118.1 449.9,117.2 455.2,116.3 460.6,115.3 465.9,114.4 470.8,113.6 475.0,112.8 478.2,112.2 480.6,111.7 482.5,111.2 484.4,110.8 486.8,110.2 490.0,109.5 494.1,108.6 498.7,107.4 503.8,106.2 509.1,105.0 514.5,103.8 520.0,102.8 525.6,102.0 531.5,101.4 537.5,100.9 543.5,100.3 549.4,99.6 555.0,98.5 560.4,97.0 565.7,95.3 570.9,93.4 575.9,91.4 580.6,89.4 585.0,87.5 589.2,85.6 593.3,83.7 597.1,81.7 600.5,79.9 603.4,78.4 605.5,77.3" fill="none" stroke="#e8251b" stroke-width="1.0" stroke-linejoin="round" />
<polyline points="605.5,77.3 607.5,70.0 609.7,60.4" fill="none" stroke="#e8251b" stroke-width="1.0" stroke-linejoin="round" />
<polyline points="345.0,130.5 350.8,130.5 359.0,130.5 368.6,130.5 378.8,130.3 388.9,130.0 398.0,129.4 406.4,128.4 414.7,127.1 422.9,125.6 430.8,124.0 438.2,122.5 445.0,121.2 451.0,120.1 456.4,119.2 461.4,118.3 466.0,117.4 470.5,116.6 475.0,115.8 479.4,115.0 483.5,114.3 487.5,113.7 491.5,113.0 495.6,112.3 500.0,111.5 504.7,110.7 509.6,109.8 514.7,108.9 519.8,107.9 524.9,107.0 530.0,106.0 535.1,105.1 540.2,104.1 545.3,103.2 550.4,102.2 555.3,101.2 560.0,100.0 564.5,98.7 568.9,97.4 573.1,96.1 577.2,94.6 581.2,92.9 585.0,91.0 588.6,88.7 592.0,86.1 595.2,83.3 598.4,80.6 601.6,78.1 605.0,76.0 608.5,74.4 612.0,73.2 615.6,72.2 619.2,71.3 622.8,70.5 626.5,69.7 630.5,68.9 634.8,68.0 639.1,67.3 643.1,66.7 646.5,66.1 649.0,65.7" fill="none" stroke="#111" stroke-width="1.1" stroke-dasharray="4,1.6,1,1.6" stroke-linejoin="round" />
<polygon points="468.4,110.2 474.6,110.2 471.5,115.7" fill="#111"/>
<polygon points="636.1,58.5 642.5,58.5 639.3,64.0" fill="#111"/>
<polyline points="451.0,125.3 453.7,124.8 457.4,124.1 461.8,123.3 466.4,122.4 471.0,121.5 475.0,120.6 478.4,119.8 481.3,119.0 484.2,118.2 487.2,117.3 490.7,116.4 495.0,115.4 500.3,114.3 506.6,113.1 513.3,111.8 520.1,110.5 526.4,109.2 532.0,108.0 536.7,106.8 541.0,105.7 544.9,104.5 548.4,103.4 551.8,102.4 555.0,101.5 558.0,100.7 560.6,100.1 563.0,99.5 565.3,99.0 567.6,98.3 570.0,97.5 572.5,96.5 575.0,95.4 577.5,94.1 580.0,92.9 582.5,91.7 585.0,90.5 587.5,89.4 590.0,88.3 592.5,87.3 595.0,86.3 597.5,85.2 600.0,84.2 602.5,83.2 605.0,82.1 607.4,81.0 609.9,80.0 612.4,79.1 615.0,78.2 617.6,77.5 620.1,76.9 622.6,76.4 625.3,75.8 628.0,75.2 631.0,74.3 634.5,73.1 638.4,71.7 642.5,70.2 646.4,68.7 649.7,67.4 652.0,66.5" fill="none" stroke="#111" stroke-width="1.2" stroke-dasharray="2.4,1.5" stroke-linejoin="round" />
<polyline points="456.0,126.5 458.1,126.3 460.9,126.0 464.2,125.7 467.9,125.3 471.6,124.8 475.0,124.3 478.1,123.7 481.0,123.0 483.9,122.3 487.0,121.5 490.7,120.6 495.0,119.6 500.3,118.5 506.6,117.3 513.3,115.9 520.1,114.6 526.4,113.3 532.0,112.0 536.7,110.8 541.0,109.5 544.9,108.3 548.4,107.1 551.8,106.0 555.0,105.0 558.0,104.2 560.6,103.6 563.0,103.0 565.3,102.4 567.6,101.8 570.0,101.0 572.5,100.0 575.0,98.9 577.5,97.6 580.0,96.4 582.5,95.2 585.0,94.0 587.5,92.9 590.0,91.8 592.5,90.8 595.0,89.8 597.5,88.7 600.0,87.7 602.5,86.6 605.0,85.6 607.4,84.5 609.9,83.4 612.4,82.5 615.0,81.7 617.6,81.1 620.1,80.8 622.6,80.6 625.3,80.3 628.0,79.8 631.0,79.0 634.5,77.6 638.4,75.8 642.5,73.8 646.4,71.9 649.7,70.2 652.0,69.0" fill="none" stroke="#111" stroke-width="1.2" stroke-dasharray="2.4,1.5" stroke-linejoin="round" />
<polyline points="551.7,117.9 553.7,117.1 556.5,116.1 559.9,114.8 563.4,113.5 566.9,112.1 570.0,111.0 572.8,110.0 575.4,109.0 578.0,108.1 580.5,107.2 583.0,106.4 585.5,105.5 588.1,104.6 590.9,103.6 593.7,102.7 596.3,101.8 598.4,101.0 600.0,100.5" fill="none" stroke="#111" stroke-width="1.2" stroke-dasharray="2.4,1.5" stroke-linejoin="round" />
<polyline points="551.7,118.3 553.7,117.7 556.5,116.9 559.9,116.0 563.4,115.0 566.9,113.9 570.0,113.0 572.8,112.1 575.4,111.3 578.0,110.5 580.5,109.6 583.0,108.7 585.5,107.8 588.1,106.7 590.9,105.5 593.7,104.3 596.3,103.2 598.4,102.2 600.0,101.5" fill="none" stroke="#111" stroke-width="1.2" stroke-dasharray="2.4,1.5" stroke-linejoin="round" />
<polyline points="341.5,155.7 344.7,155.3 349.1,154.8 354.4,154.1 360.0,153.4 365.7,152.8 371.0,152.3 376.1,151.9 381.3,151.6 386.6,151.3 391.7,151.1 396.6,150.8 401.0,150.5 404.8,150.1 408.0,149.7 411.0,149.3 414.0,148.8 417.2,148.4 421.0,147.9 425.5,147.4 430.7,147.0 436.1,146.5 441.4,146.0 446.5,145.5 451.0,145.0 454.7,144.5 457.9,143.9 460.8,143.3 463.6,142.7 466.6,142.1 470.0,141.5 473.8,140.8 477.9,140.1 482.1,139.4 486.4,138.6 490.8,137.9 495.0,137.3 499.3,136.7 503.7,136.2 508.1,135.8 512.4,135.3 516.4,134.9 520.0,134.5 523.0,134.1 525.6,133.8 527.8,133.6 530.0,133.3 532.3,132.9 535.0,132.3 538.0,131.6 541.1,130.9 544.4,130.0 547.8,129.1 551.3,128.0 555.0,126.7 558.9,125.2 563.0,123.6 567.2,121.8 571.5,119.9 575.8,117.9 580.0,116.0 584.3,114.0 588.7,111.9 593.1,109.7 597.4,107.5 601.4,105.4 605.0,103.5 608.0,101.8 610.6,100.3 612.8,98.8 615.0,97.4 617.3,95.8 620.0,94.0 623.3,91.8 627.0,89.1 630.9,86.4 634.6,83.8 637.8,81.6 640.0,80.0" fill="none" stroke="#111" stroke-width="1.2" stroke-dasharray="2.4,1.5" stroke-linejoin="round" />
<polyline points="341.5,157.8 344.7,157.6 349.1,157.3 354.4,157.0 360.0,156.6 365.7,156.2 371.0,155.9 376.1,155.6 381.3,155.3 386.6,155.0 391.7,154.7 396.6,154.4 401.0,154.1 404.8,153.8 408.0,153.6 411.0,153.3 414.0,153.1 417.2,152.8 421.0,152.5 425.5,152.2 430.7,151.9 436.1,151.5 441.4,151.2 446.5,150.7 451.0,150.2 454.7,149.5 457.9,148.7 460.8,147.9 463.6,147.0 466.6,146.1 470.0,145.4 473.8,144.7 477.9,144.1 482.1,143.6 486.4,143.1 490.8,142.5 495.0,142.0 499.3,141.5 503.7,141.0 508.1,140.5 512.4,140.0 516.4,139.5 520.0,139.0 523.0,138.6 525.6,138.2 527.8,137.9 530.0,137.5 532.3,137.0 535.0,136.3 538.0,135.4 541.1,134.4 544.4,133.3 547.8,132.0 551.3,130.6 555.0,129.2 558.9,127.6 563.0,126.0 567.2,124.2 571.5,122.3 575.8,120.4 580.0,118.5 584.3,116.5 588.7,114.3 593.1,112.1 597.4,109.9 601.4,107.8 605.0,105.8 608.0,104.1 610.6,102.5 612.8,101.0 615.0,99.5 617.3,97.9 620.0,96.0 623.3,93.6 627.0,90.8 630.9,87.9 634.6,85.1 637.8,82.7 640.0,81.0" fill="none" stroke="#111" stroke-width="1.2" stroke-dasharray="2.4,1.5" stroke-linejoin="round" />
<polyline points="572.0,134.4 572.8,134.0 574.0,133.3 575.4,132.6 576.9,131.8 578.5,131.0 580.0,130.2 581.6,129.4 583.2,128.5 584.9,127.7 586.6,126.8 588.3,125.9 590.0,125.0 591.6,124.2 593.1,123.5 594.6,122.8 596.1,122.0 597.9,121.0 600.0,119.8 602.4,118.3 605.1,116.5 608.0,114.6 611.0,112.6 614.1,110.5 617.0,108.5 620.1,106.4 623.4,104.1 626.8,101.7 629.9,99.6 632.6,97.7 634.5,96.4" fill="none" stroke="#111" stroke-width="1.2" stroke-dasharray="2.4,1.5" stroke-linejoin="round" />
<polyline points="572.0,134.6 572.8,134.4 574.0,134.1 575.4,133.7 576.9,133.3 578.5,132.9 580.0,132.5 581.6,132.1 583.2,131.6 584.9,131.2 586.6,130.7 588.3,130.1 590.0,129.5 591.7,128.8 593.5,128.0 595.3,127.1 597.0,126.2 598.6,125.4 600.0,124.5 601.0,123.7 601.7,123.1 602.2,122.4 602.8,121.6 603.6,120.7 605.0,119.5 606.9,118.0 609.3,116.1 611.9,114.1 614.7,112.1 617.4,110.0 620.0,108.0 622.6,106.0 625.4,103.8 628.2,101.7 630.8,99.7 632.9,98.0 634.5,96.8" fill="none" stroke="#111" stroke-width="1.2" stroke-dasharray="2.4,1.5" stroke-linejoin="round" />
<polyline points="341.5,178.1 345.6,177.7 351.0,177.1 357.6,176.5 364.9,175.7 372.8,174.9 381.0,173.9 390.0,172.8 400.3,171.4 411.1,170.0 421.8,168.5 431.6,167.2 440.0,166.0 446.6,165.1 451.8,164.3 456.2,163.7 460.3,163.0 464.8,162.4 470.0,161.7 476.4,160.9 483.7,160.0 491.2,159.2 498.5,158.3 505.0,157.5 510.0,156.9 513.3,156.4 515.2,156.1 516.2,155.8 517.0,155.5 518.1,155.3 520.0,154.9 523.0,154.4 526.8,153.9 530.9,153.3 534.8,152.7 538.1,152.2 540.5,151.9" fill="none" stroke="#111" stroke-width="1.2" stroke-dasharray="2.4,1.5" stroke-linejoin="round" />
<polyline points="400.0,172.3 404.5,172.0 410.7,171.5 418.1,170.9 425.9,170.4 433.4,169.8 440.0,169.3 445.5,168.9 450.4,168.6 455.0,168.3 459.6,168.0 464.5,167.6 470.0,167.1 476.4,166.5 483.7,165.8 491.2,165.0 498.5,164.2 505.0,163.5 510.0,162.9 513.3,162.5 515.2,162.4 516.2,162.3 517.0,162.1 518.1,161.7 520.0,160.9 522.8,159.7 525.9,158.2 529.4,156.5 533.0,154.7 536.6,152.9 540.0,151.1 543.3,149.4 546.7,147.7 550.0,145.9 553.3,144.2 556.7,142.4 560.0,140.7 563.3,139.0 566.7,137.2 570.0,135.4 573.3,133.7 576.7,131.9 580.0,130.2 583.4,128.5 586.8,126.8 590.2,125.0 593.6,123.3 596.8,121.6 600.0,119.8 603.0,118.0 605.9,116.1 608.7,114.3 611.4,112.4 614.2,110.4 617.0,108.5 620.1,106.4 623.4,104.1 626.8,101.7 629.9,99.6 632.6,97.7 634.5,96.4" fill="none" stroke="#111" stroke-width="1.2" stroke-dasharray="2.4,1.5" stroke-linejoin="round" />
<polyline points="564.0,146.6 565.7,145.9 568.0,144.9 570.8,143.7 573.8,142.4 576.9,141.1 580.0,139.8 583.1,138.5 586.5,137.2 589.9,135.8 593.4,134.5 596.8,133.1 600.0,131.8 603.1,130.5 606.1,129.2 609.1,127.9 611.9,126.6 614.6,125.4 617.0,124.3 619.2,123.3 621.3,122.3 623.2,121.4 624.9,120.6 626.3,119.9 627.3,119.4" fill="none" stroke="#111" stroke-width="1.0" stroke-dasharray="2.4,1.5" stroke-linejoin="round" />
<polyline points="564.0,147.2 565.7,146.6 568.0,145.8 570.8,144.9 573.8,143.8 576.9,142.7 580.0,141.6 583.1,140.4 586.5,139.2 589.9,137.8 593.4,136.5 596.8,135.1 600.0,133.8 603.1,132.5 606.1,131.1 609.1,129.7 611.9,128.4 614.6,127.1 617.0,125.9 619.2,124.7 621.3,123.5 623.2,122.4 624.9,121.4 626.3,120.5 627.3,119.9" fill="none" stroke="#111" stroke-width="1.0" stroke-dasharray="2.4,1.5" stroke-linejoin="round" />
<polyline points="537.0,98.0 538.8,97.7 541.2,97.3 544.1,96.8 547.4,96.0 551.1,95.1 555.0,93.7 559.4,91.8 564.5,89.5 569.9,86.9 575.3,84.2 580.4,81.6 585.0,79.2 589.1,77.0 592.9,74.8 596.4,72.6 599.7,70.6 602.5,68.8 605.0,67.3 607.0,66.1 608.6,65.1 609.8,64.4 610.7,63.8 611.4,63.4 612.0,63.0" fill="none" stroke="#111" stroke-width="1.1" stroke-dasharray="2.2,1.4" stroke-linejoin="round" />
<polyline points="537.0,100.6 538.8,100.4 541.2,100.2 544.1,99.9 547.4,99.4 551.1,98.7 555.0,97.6 559.4,96.0 564.5,94.1 569.9,91.8 575.3,89.5 580.4,87.1 585.0,85.0 589.1,82.9 592.9,80.9 596.4,78.8 599.7,76.8 602.5,75.1 605.0,73.5 606.7,72.4 607.5,71.9 608.0,71.4 608.6,70.9 609.8,69.9 612.0,68.1 615.8,65.2 620.8,61.3 626.4,56.9 632.0,52.6 636.7,48.9 640.0,46.4" fill="none" stroke="#111" stroke-width="1.3" stroke-dasharray="2.6,1.6" stroke-linejoin="round" />
<polyline points="540.0,99.3 541.5,99.0 543.3,98.7 545.6,98.3 548.3,97.7 551.5,96.8 555.0,95.6 559.2,93.9 564.3,91.7 569.7,89.3 575.2,86.8 580.4,84.3 585.0,82.0 589.1,79.8 593.1,77.6 596.9,75.3 600.2,73.3 602.9,71.6 605.0,70.4" fill="none" stroke="#111" stroke-width="1.4" stroke-dasharray="1.8,1.2" stroke-linejoin="round" />
<polyline points="545.0,97.8 546.5,97.4 548.5,96.9 550.9,96.3 553.7,95.5 556.7,94.5 560.0,93.2 563.6,91.5 567.8,89.5 572.2,87.3 576.7,84.9 581.0,82.6 585.0,80.5 588.9,78.4 592.8,76.2 596.6,74.0 600.0,71.9 602.9,70.2 605.0,69.0" fill="none" stroke="#222" stroke-width="1.0" stroke-dasharray="1.2,1.8" stroke-linejoin="round" />
<polyline points="600.0,72.0 606.0,71.2 612.0,70.0" fill="none" stroke="#e8251b" stroke-width="0.8" stroke-linejoin="round" />
<g stroke="#333" stroke-width="0.8"><line x1="649.5" y1="28.9" x2="652.5" y2="28.9"/><line x1="649.5" y1="52.75" x2="652.5" y2="52.75"/><line x1="649.5" y1="76.6" x2="652.5" y2="76.6"/><line x1="649.5" y1="100.5" x2="652.5" y2="100.5"/><line x1="649.5" y1="124.4" x2="652.5" y2="124.4"/><line x1="649.5" y1="148.3" x2="652.5" y2="148.3"/><line x1="649.5" y1="172.1" x2="652.5" y2="172.1"/></g>
<g stroke="#444" stroke-width="0.8"><line x1="366.6" y1="190" x2="366.6" y2="196"/><line x1="427.4" y1="190" x2="427.4" y2="196"/><line x1="488.6" y1="190" x2="488.6" y2="196"/><line x1="548" y1="190" x2="548" y2="196"/><line x1="608.6" y1="190" x2="608.6" y2="196"/></g>
</g><!--/rgeo2-->
<!-- right legend -->
<g id="rlegend">
<text x="369.8" y="44.1" font-size="10.5" font-weight="bold" textLength="32" lengthAdjust="spacingAndGlyphs">Legend :</text>
<g stroke="#777060" stroke-width="0.8">
<rect x="368.5" y="52.2" width="30" height="7" fill="#abcd03"/>
<rect x="368.5" y="61.3" width="30" height="7" fill="#f0833c"/>
<rect x="368.5" y="70.7" width="30" height="7.2" fill="#ffee00"/>
<rect x="456.5" y="50.2" width="30" height="7" fill="#ffcd00"/>
<rect x="456.5" y="59.5" width="30" height="7.4" fill="#fff58c"/>
<rect x="456.5" y="69" width="30" height="7.5" fill="#e0d577"/>
</g>
<g font-size="9.6">
<text x="401.7" y="58.5" textLength="46.3" lengthAdjust="spacingAndGlyphs">Gravely Sand</text>
<text x="401.7" y="67.5" textLength="35" lengthAdjust="spacingAndGlyphs">Sandy Silt</text>
<text x="401.7" y="76.5" textLength="17" lengthAdjust="spacingAndGlyphs">Sand</text>
<text x="401.7" y="90.6" textLength="44.3" lengthAdjust="spacingAndGlyphs">Groundwater</text>
<text x="491.3" y="56.9" textLength="12" lengthAdjust="spacingAndGlyphs">Silt</text>
<text x="491.3" y="65.8" textLength="56.3" lengthAdjust="spacingAndGlyphs">Sand and Gravel</text>
<text x="491.3" y="74.8" textLength="41" lengthAdjust="spacingAndGlyphs">Silty Gravel</text>
</g>
<path d="M377.9,82.6 L385.7,82.6 L381.8,89.6 Z" fill="#111" stroke="none"/>
<line x1="376" y1="90.5" x2="387.7" y2="90.5" stroke="#222" stroke-width="0.9"/>
<line x1="377.6" y1="92.6" x2="386" y2="92.6" stroke="#555" stroke-width="0.7"/>
<line x1="379.6" y1="94.5" x2="384.5" y2="94.5" stroke="#999" stroke-width="0.6"/>
</g>

<line x1="653.5" y1="5" x2="653.5" y2="197" stroke="#1a1412" stroke-width="2.6"/>
<line x1="341" y1="196.3" x2="653" y2="196.3" stroke="#333" stroke-width="1.8"/>
<g font-size="10">
<text x="656.5" y="8.8">100</text>
<text x="656.5" y="32.6">90</text>
<text x="656.5" y="56.5">80</text>
<text x="656.5" y="80.3">70</text>
<text x="656.5" y="104.2">60</text>
<text x="656.5" y="128">50</text>
<text x="656.5" y="151.9">40</text>
<text x="656.5" y="175.7">30</text>
</g>
<g font-size="9.6" text-anchor="middle">
<text x="368.4" y="208">3000</text>
<text x="429.2" y="208">3500</text>
<text x="490.6" y="208">4000</text>
<text x="549.2" y="208">4500</text>
<text x="610" y="208">5000</text>
</g>
<text x="492" y="227" font-size="13" text-anchor="middle">Distance (m)</text>
<text transform="translate(683.6,89.4) rotate(-90)" font-size="12.6" text-anchor="middle">Elevation (m)</text>
<text x="346" y="246" font-size="14.57">(b) cross-section in area mudflows of Jono Oge</text>
</g>
</svg>
</body></html>
